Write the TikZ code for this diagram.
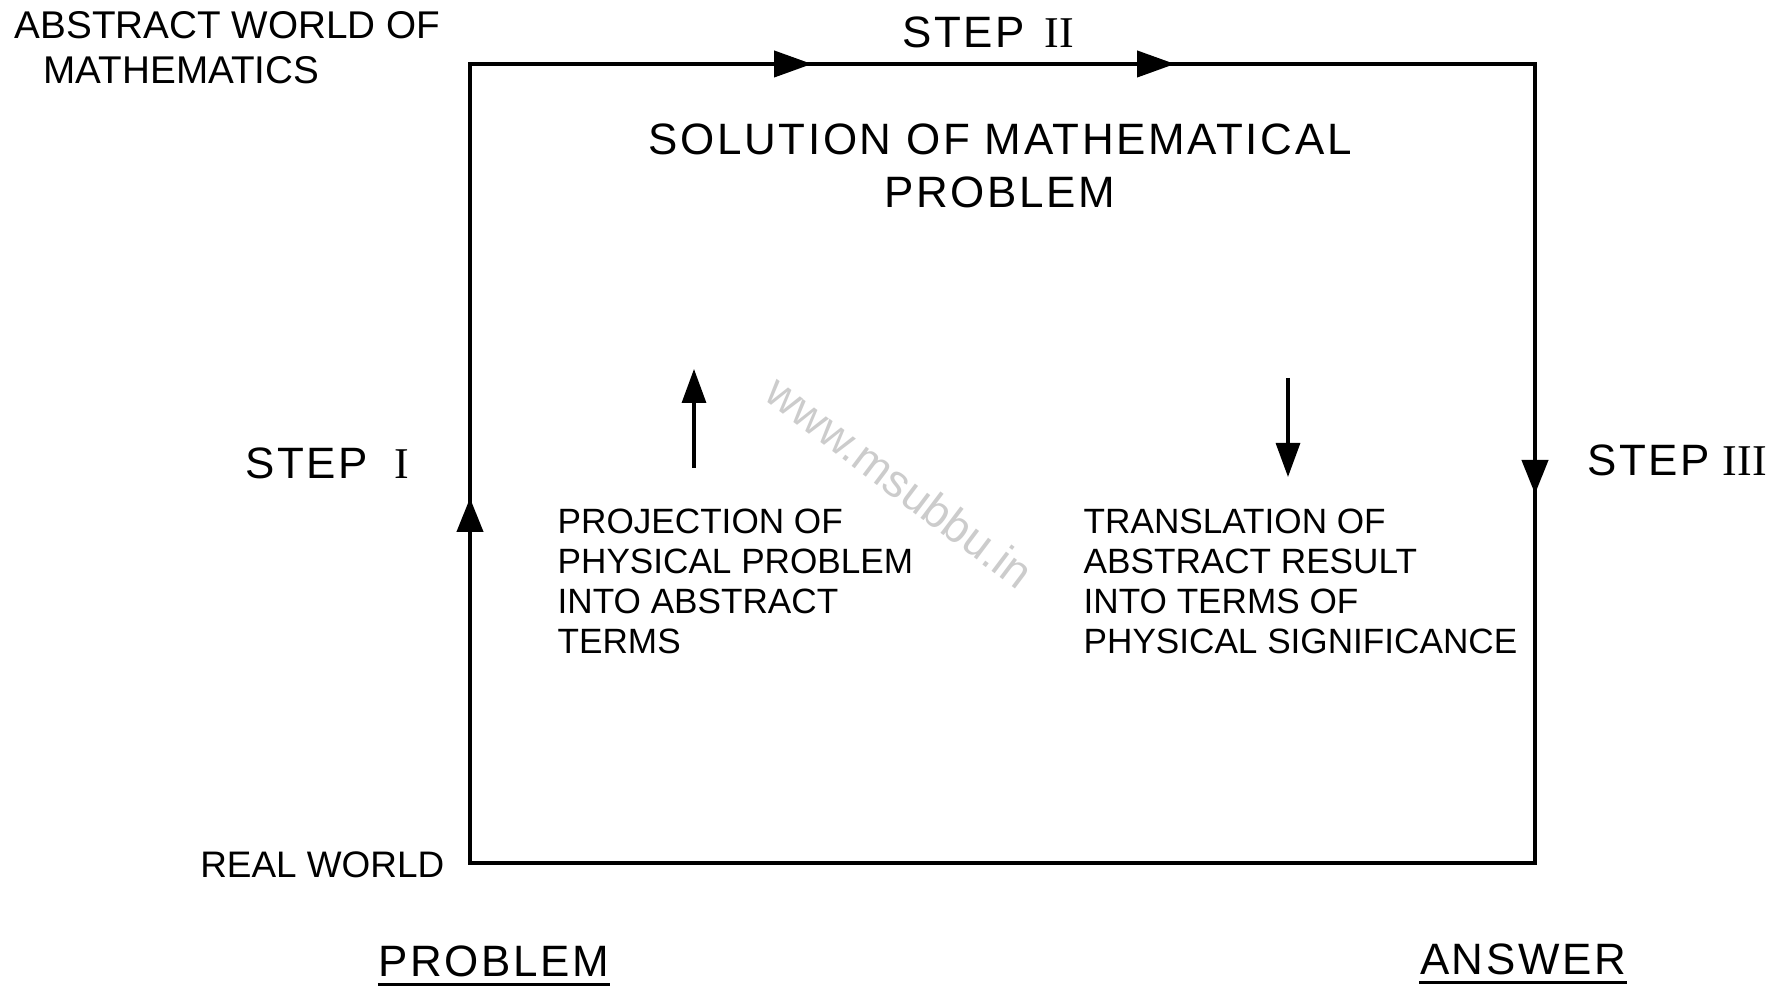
\documentclass[tikz,border=0pt]{standalone}
\usepackage{fontspec}
\setmainfont{Liberation Sans}
\newfontfamily\letterface[LetterSpace=6]{Liberation Sans}
\newfontfamily\numeralface{Liberation Serif}
\usepackage{tikz}
\usetikzlibrary{arrows.meta,decorations.markings,positioning}
\newcommand{\RomanNum}[1]{{\numeralface #1}}

\begin{document}
\begin{tikzpicture}[
    frame/.style={line width=1.2pt, line join=miter},
    flowmarks/.style={postaction={decorate}, decoration={markings,
        mark=at position 3.65cm with {\arrow{Triangle[length=3.4mm,width=2.6mm]}},
        mark=at position 11.41cm with {\arrow{Triangle[length=3.8mm,width=2.6mm]}},
        mark=at position 15.04cm with {\arrow{Triangle[length=3.8mm,width=2.6mm]}},
        mark=at position 22.94cm with {\arrow{Triangle[length=3.4mm,width=2.6mm]}}}},
    pointer/.style={-{Triangle[length=3.4mm,width=2.4mm]}, line width=0.9pt},
    caption/.style={font=\fontsize{11}{12.8}\selectfont, inner sep=0pt, align=left},
    bodytext/.style={font=\fontsize{10}{11.4}\selectfont, inner sep=0pt, align=left},
    heading/.style={font=\fontsize{12.5}{15}\selectfont\letterface, inner sep=0pt, align=center},
    stepmark/.style={font=\fontsize{12.5}{14}\selectfont\letterface, inner sep=0pt},
    watermark/.style={font=\fontsize{13}{15}\selectfont, text=gray!40, inner sep=0pt},
]
    \useasboundingbox (0,0) rectangle (17.8,9.88);

    % the two worlds
    \node[caption, anchor=north west] (abstract) at (0.14, 9.77) {ABSTRACT WORLD OF\\\hspace*{0.29cm}MATHEMATICS};
    \node[caption, font=\fontsize{10.5}{12}\selectfont, anchor=east] (realworld) at (4.45, 1.23) {REAL WORLD};

    % loop problem -> answer
    \coordinate (real) at (4.70, 1.25);
    \coordinate (absleft) at (4.70, 9.24);
    \coordinate (absright) at (15.35, 9.24);
    \coordinate (ansright) at (15.35, 1.25);
    \draw[frame, flowmarks] (real) -- (absleft) -- (absright) -- (ansright) -- cycle;

    \node[stepmark] (step1) at (3.27, 5.25) {STEP\hspace{0.6em}\RomanNum{I}};
    \node[stepmark] (step2) at (9.88, 9.56) {STEP\hspace{0.45em}\RomanNum{II}};
    \node[stepmark] (step3) at (16.77, 5.28) {STEP\hspace{0.3em}\RomanNum{III}};

    \node[heading, anchor=north] (solution) at (10.0, 8.65) {SOLUTION OF MATHEMATICAL\\PROBLEM};

    % projection and translation
    \node[bodytext, anchor=north west] (projection) at (5.57, 4.80) {PROJECTION OF\\PHYSICAL PROBLEM\\INTO ABSTRACT\\TERMS};
    \node[bodytext, anchor=north west] (translation) at (10.83, 4.80) {TRANSLATION OF\\ABSTRACT RESULT\\INTO TERMS OF\\PHYSICAL SIGNIFICANCE};
    \coordinate (projbase) at (6.94, 5.20);
    \coordinate (projhead) at (6.94, 6.19);
    \coordinate (transbase) at (12.88, 6.10);
    \coordinate (transhead) at (12.88, 5.11);
    \draw[pointer] (projbase) -- (projhead);
    \draw[pointer] (transbase) -- (transhead);

    % ends of the loop
    \node[heading] (problem) at (4.94, 0.27) {PROBLEM};
    \node[heading] (answer) at (15.23, 0.29) {ANSWER};
    \draw[line width=0.9pt] ([yshift=-0.07cm]problem.south west) -- ([yshift=-0.07cm]problem.south east);
    \draw[line width=0.9pt] ([yshift=-0.07cm]answer.south west) -- ([yshift=-0.07cm]answer.south east);

    \node[watermark, rotate=-37] (site) at (9.00, 5.06) {www.msubbu.in};
\end{tikzpicture}
\end{document}
